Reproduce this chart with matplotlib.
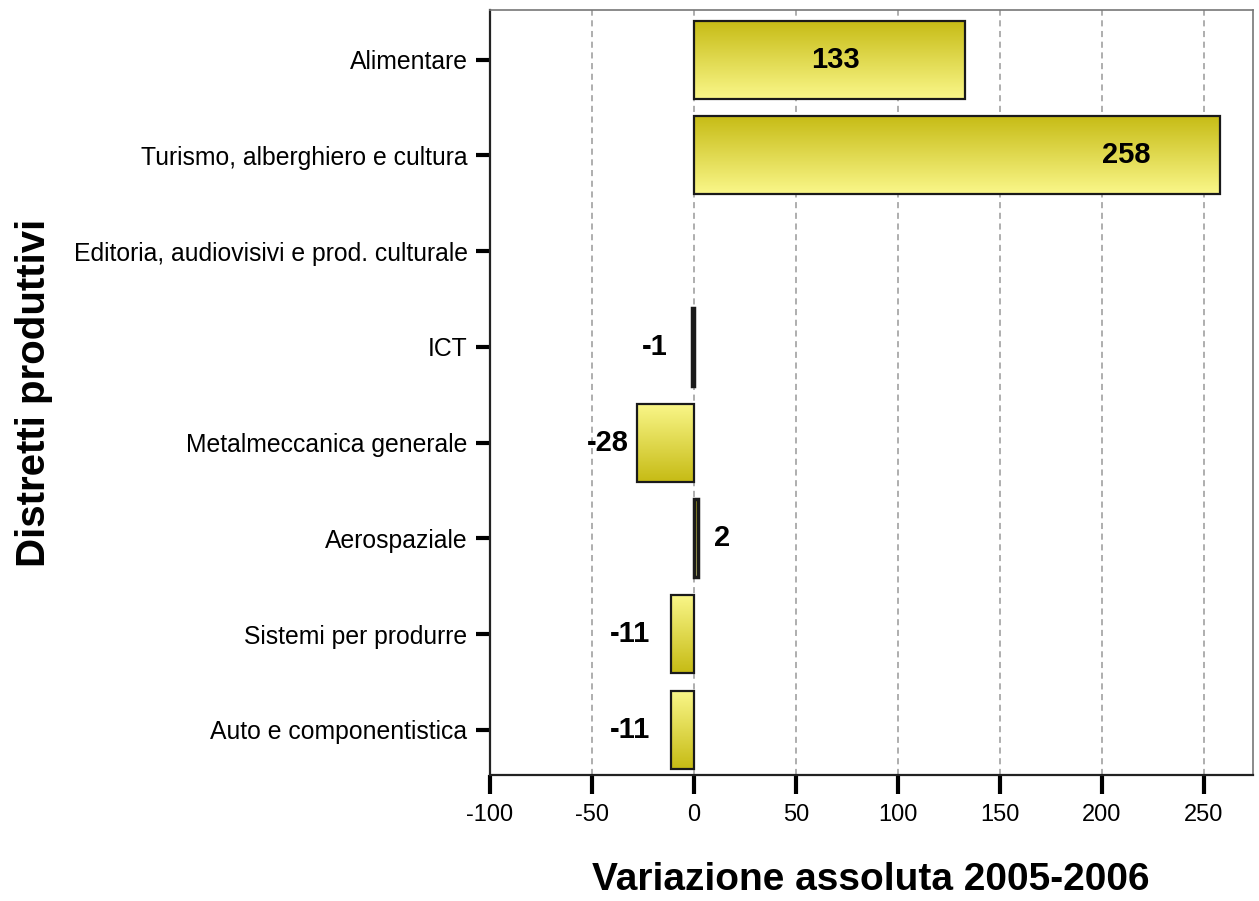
import matplotlib.pyplot as plt
import numpy as np
from matplotlib.colors import LinearSegmentedColormap

categories = ["Alimentare", "Turismo, alberghiero e cultura",
              "Editoria, audiovisivi e prod. culturale", "ICT",
              "Metalmeccanica generale", "Aerospaziale",
              "Sistemi per produrre", "Auto e componentistica"]
values = [133, 258, 0, -1, -28, 2, -11, -11]
xticks = [-100, -50, 0, 50, 100, 150, 200, 250]

plt.rcParams['font.family'] = ['Liberation Sans', 'DejaVu Sans']

fig = plt.figure(figsize=(12.59, 9.01), dpi=100)
ax = fig.add_axes([0.389, 0.140, 0.606, 0.849])

ypos = np.arange(len(categories))
bars = ax.barh(ypos, values, height=0.815, color='none', edgecolor='#1a1a1a',
               linewidth=1.6, zorder=3)

cmap = LinearSegmentedColormap.from_list('g', ['#c6bb14', '#faf78a'])
grad = np.linspace(0, 1, 256).reshape(-1, 1)
for b, v in zip(bars, values):
    if v == 0:
        b.set_linewidth(0)
        continue
    if abs(v) <= 2:
        b.set_linewidth(2.5)
    x0, y0 = b.get_x(), b.get_y()
    w, h = b.get_width(), b.get_height()
    # positive bars: dark at top, light at bottom; negative: reversed
    g = grad if v > 0 else grad[::-1]
    im = ax.imshow(g, cmap=cmap, aspect='auto', origin='upper',
                   extent=[min(x0, x0 + w), max(x0, x0 + w), y0 + h, y0],
                   zorder=2, interpolation='bilinear')
    im.set_clip_path(b)

# value labels (x positions in data units)
label_x = {133: 69.5, 258: 212}
for i, v in enumerate(values):
    if v == 0:
        continue
    kw = dict(va='center', fontsize=21, fontweight='bold', zorder=4)
    if v in label_x:
        ax.text(label_x[v], i, str(v), ha='center', **kw)
    elif v > 0:
        ax.text(v + 8, i, str(v), ha='left', **kw)
    elif v == -1:
        ax.text(-19, i, str(v), ha='center', **kw)
    elif v == -28:
        ax.text(-32, i, str(v), ha='right', **kw)
    else:
        ax.text(v - 10.5, i, str(v), ha='right', **kw)

ax.set_xlim(-100, 274)
ax.set_ylim(7.47, -0.52)
ax.set_yticks(ypos)
ax.set_yticklabels(categories, fontsize=17.8)
ax.set_xticks(xticks)
ax.set_xticklabels([str(t) for t in xticks], fontsize=17)
ax.tick_params(axis='y', length=10, width=3, pad=6)
ax.tick_params(axis='x', length=14, width=3, pad=7)

ax.xaxis.grid(True, linestyle=(0, (4, 3)), color='#999999', linewidth=1.1, zorder=0)
ax.set_axisbelow(True)
for s in ax.spines.values():
    s.set_color('#777777')
    s.set_linewidth(1.2)
ax.spines['left'].set_color('#222222')
ax.spines['bottom'].set_color('#222222')
ax.spines['left'].set_linewidth(1.6)
ax.spines['bottom'].set_linewidth(1.6)

ax.set_xlabel("Variazione assoluta 2005-2006", fontsize=28, fontweight='bold')
ax.xaxis.set_label_coords(0.5, -0.138)
ax.xaxis.label.set_va('center')
ax.set_ylabel("Distretti produttivi", fontsize=29, fontweight='bold')
ax.yaxis.set_label_coords(-0.598, 0.5)
ax.yaxis.label.set_va('center')

fig.savefig('out.png', dpi=100)
